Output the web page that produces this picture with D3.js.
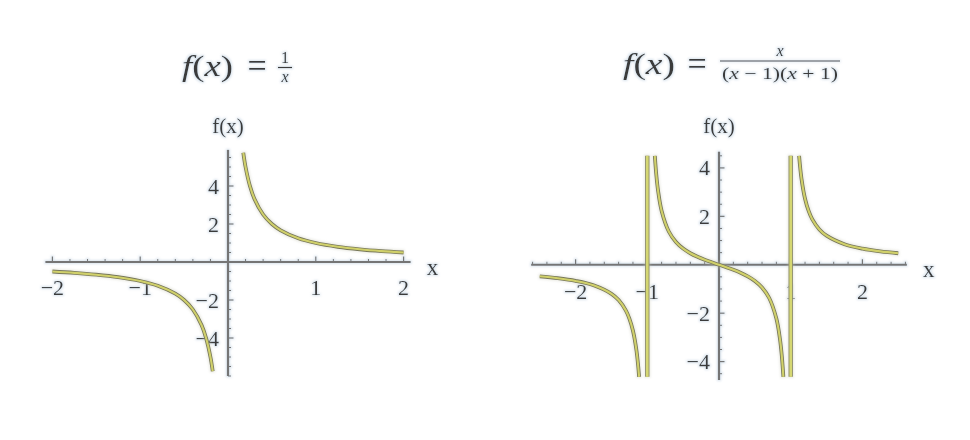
<!DOCTYPE html>
<html>
<head>
<meta charset="utf-8">
<script src="https://cdn.jsdelivr.net/npm/d3@7"></script>
<style>
  html, body { margin: 0; padding: 0; background: #fff; }
  svg { display: block; }
  text, tspan { font-family: "Liberation Serif", "DejaVu Serif", serif; fill: #3a3a3a; }
</style>
</head>
<body>
<svg id="chart" width="970" height="440"></svg>
<script>
// ---------- DATA ----------
// Panel 1: f(x) = 1/x
const p1XTicks = [-2, -1, 1, 2];
const p1YTicks = [-4, -2, 2, 4];
const p1XTickLabels = ["\u22122", "\u22121", "1", "2"];
const p1YTickLabels = ["\u22124", "\u22122", "2", "4"];
const p1BranchAX = [-2, -1.75, -1.5, -1.25, -1, -0.8, -0.6, -0.5, -0.4, -0.3, -0.25, -0.2, -0.174];
const p1BranchAY = [-0.5, -0.571, -0.667, -0.8, -1, -1.25, -1.667, -2, -2.5, -3.333, -4, -5, -5.75];
const p1BranchBX = [0.174, 0.2, 0.25, 0.3, 0.4, 0.5, 0.6, 0.8, 1, 1.25, 1.5, 1.75, 2];
const p1BranchBY = [5.75, 5, 4, 3.333, 2.5, 2, 1.667, 1.25, 1, 0.8, 0.667, 0.571, 0.5];

// Panel 2: f(x) = x / ((x-1)(x+1))
const p2XTicks = [-2, -1, 1, 2];
const p2YTicks = [-4, -2, 2, 4];
const p2XTickLabels = ["\u22122", "\u22121", "1", "2"];
const p2YTickLabels = ["\u22124", "\u22122", "2", "4"];
const p2BranchAX = [-2.5, -2.25, -2, -1.75, -1.5, -1.4, -1.3, -1.25, -1.2, -1.15, -1.114];
const p2BranchAY = [-0.476, -0.554, -0.667, -0.848, -1.2, -1.458, -1.884, -2.222, -2.727, -3.566, -4.63];
const p2BranchBX = [-0.895, -0.875, -0.85, -0.8, -0.7, -0.6, -0.5, -0.4, -0.3, -0.2, -0.1, 0, 0.1, 0.2, 0.3, 0.4, 0.5, 0.6, 0.7, 0.8, 0.85, 0.875, 0.898];
const p2BranchBY = [4.5, 3.733, 3.063, 2.222, 1.373, 0.9375, 0.667, 0.476, 0.33, 0.208, 0.101, 0, -0.101, -0.208, -0.33, -0.476, -0.667, -0.9375, -1.373, -2.222, -3.063, -3.733, -4.63];
const p2BranchCX = [1.117, 1.15, 1.2, 1.25, 1.3, 1.4, 1.5, 1.75, 2, 2.25, 2.5];
const p2BranchCY = [4.5, 3.566, 2.727, 2.222, 1.884, 1.458, 1.2, 0.848, 0.667, 0.554, 0.476];
const p2JoinX = [-1, 1];          // vertical joining segments at the asymptotes
const p2JoinY = [4.5, -4.63];     // their top / bottom values

// ---------- LAYOUT ----------
const svg = d3.select("#chart");
const SERIF = "'Liberation Serif', 'DejaVu Serif', serif";

const defs = svg.append("defs");
function makeGlow(id, color, op, r) {
  const f = defs.append("filter").attr("id", id)
    .attr("x", "-20%").attr("y", "-20%").attr("width", "140%").attr("height", "140%");
  f.append("feMorphology").attr("in", "SourceAlpha").attr("operator", "dilate").attr("radius", r).attr("result", "dil");
  f.append("feGaussianBlur").attr("in", "dil").attr("stdDeviation", 1.1).attr("result", "blur");
  f.append("feFlood").attr("flood-color", color).attr("flood-opacity", op).attr("result", "col");
  f.append("feComposite").attr("in", "col").attr("in2", "blur").attr("operator", "in").attr("result", "shadow");
  const m = f.append("feMerge");
  m.append("feMergeNode").attr("in", "shadow");
  m.append("feMergeNode").attr("in", "SourceGraphic");
}
makeGlow("glow", "#b4c8da", 0.5, 1);
makeGlow("glowC", "#c8c8b4", 0.35, 0.6);

function zip(xs, ys) { return xs.map((v, i) => [v, ys[i]]); }

function drawPanel(cfg) {
  const g = svg.append("g").attr("filter", "url(#glow)");
  const x = d3.scaleLinear().domain(cfg.xDomain).range(cfg.xRange);
  const y = d3.scaleLinear().domain(cfg.yDomain).range(cfg.yRange);

  const minorX = d3.range(Math.ceil(cfg.xAxis[0] / 0.2), Math.floor(cfg.xAxis[1] / 0.2) + 1)
    .map(k => +(k * 0.2).toFixed(2)).filter(v => v !== 0 && !cfg.xTicks.includes(v));
  const minorY = d3.range(Math.ceil(cfg.yAxis[0] / 0.5), Math.floor(cfg.yAxis[1] / 0.5) + 1)
    .map(k => k * 0.5).filter(v => v !== 0 && !cfg.yTicks.includes(v));

  const axG = g.append("g").attr("stroke", "#757575").attr("fill", "none");
  axG.append("line")
    .attr("x1", x(cfg.xAxis[0])).attr("x2", x(cfg.xAxis[1]))
    .attr("y1", y(0)).attr("y2", y(0)).attr("stroke-width", 2.2);
  axG.append("line")
    .attr("x1", x(0)).attr("x2", x(0))
    .attr("y1", y(cfg.yAxis[0])).attr("y2", y(cfg.yAxis[1])).attr("stroke-width", 2.2);

  axG.selectAll(".mx").data(minorX).join("line")
    .attr("x1", d => x(d)).attr("x2", d => x(d))
    .attr("y1", y(0)).attr("y2", y(0) - 3).attr("stroke-width", 1);
  axG.selectAll(".Mx").data(cfg.xTicks).join("line")
    .attr("x1", d => x(d)).attr("x2", d => x(d))
    .attr("y1", y(0)).attr("y2", y(0) - 5.5).attr("stroke-width", 1.2);
  axG.selectAll(".my").data(minorY).join("line")
    .attr("x1", x(0)).attr("x2", x(0) + 3)
    .attr("y1", d => y(d)).attr("y2", d => y(d)).attr("stroke-width", 1);
  axG.selectAll(".My").data(cfg.yTicks).join("line")
    .attr("x1", x(0)).attr("x2", x(0) + 5.5)
    .attr("y1", d => y(d)).attr("y2", d => y(d)).attr("stroke-width", 1.2);

  g.selectAll(".xl").data(cfg.xTicks).join("text")
    .attr("x", d => x(d)).attr("y", y(0) + cfg.xLabelDy)
    .attr("text-anchor", "middle").attr("dominant-baseline", "central")
    .attr("font-family", SERIF).attr("font-size", 22)
    .text((d, i) => cfg.xTickLabels[i]);
  g.selectAll(".yl").data(cfg.yTicks).join("text")
    .attr("x", x(0) - 9).attr("y", d => y(d))
    .attr("text-anchor", "end").attr("dominant-baseline", "central")
    .attr("font-family", SERIF).attr("font-size", 22)
    .text((d, i) => cfg.yTickLabels[i]);

  g.append("text").attr("x", x(0)).attr("y", cfg.fxLabelY)
    .attr("text-anchor", "middle").attr("dominant-baseline", "central")
    .attr("font-family", SERIF).attr("font-size", 21).text("f(x)");
  g.append("text").attr("x", x(cfg.xAxis[1]) + cfg.xNameDx).attr("y", y(0) + 5)
    .attr("text-anchor", "middle").attr("dominant-baseline", "central")
    .attr("font-family", SERIF).attr("font-size", 23).text("x");

  const line = d3.line().x(d => x(d[0])).y(d => y(d[1])).curve(d3.curveCatmullRom.alpha(0.5));
  const curveG = svg.append("g").attr("fill", "none").attr("filter", "url(#glowC)");
  cfg.branches.forEach(b => {
    curveG.append("path").attr("d", line(b)).attr("stroke", "#77775a").attr("stroke-width", 3.8);
    curveG.append("path").attr("d", line(b)).attr("stroke", "#d0d06a").attr("stroke-width", 2.1);
  });
  const segLine = d3.line().x(d => x(d[0])).y(d => y(d[1]));
  (cfg.joins || []).forEach(jx => {
    const seg = [[jx, cfg.joinY[0]], [jx, cfg.joinY[1]]];
    curveG.append("path").attr("d", segLine(seg)).attr("stroke", "#8c8c66").attr("stroke-width", 4.4);
    curveG.append("path").attr("d", segLine(seg)).attr("stroke", "#d5d772").attr("stroke-width", 2.6);
  });
}

drawPanel({
  xDomain: [-2, 2], xRange: [52.4, 403.6],
  yDomain: [-6, 6], yRange: [376, 148],
  xAxis: [-2.08, 2.08], yAxis: [-6.0, 5.9],
  xTicks: p1XTicks, yTicks: p1YTicks,
  xTickLabels: p1XTickLabels, yTickLabels: p1YTickLabels,
  xLabelDy: 25, fxLabelY: 126, xNameDx: 22,
  branches: [zip(p1BranchAX, p1BranchAY), zip(p1BranchBX, p1BranchBY)]
});

drawPanel({
  xDomain: [-2.5, 2.5], xRange: [539.75, 898.25],
  yDomain: [-4.76, 4.67], yRange: [380, 151.7],
  xAxis: [-2.62, 2.62], yAxis: [-4.76, 4.67],
  xTicks: p2XTicks, yTicks: p2YTicks,
  xTickLabels: p2XTickLabels, yTickLabels: p2YTickLabels,
  xLabelDy: 27, fxLabelY: 126, xNameDx: 22,
  branches: [zip(p2BranchAX, p2BranchAY), zip(p2BranchBX, p2BranchBY), zip(p2BranchCX, p2BranchCY)],
  joins: p2JoinX, joinY: p2JoinY
});

// ---------- TITLES ----------
const tg = svg.append("g").attr("filter", "url(#glow)");
function ital(sel, s) { sel.append("tspan").attr("font-family", SERIF).attr("font-style", "italic").text(s); }
function roman(sel, s) { sel.append("tspan").attr("font-family", SERIF).attr("font-style", "normal").text(s); }

// left title: f(x) = 1/x
const t1 = tg.append("text").attr("x", 182).attr("y", 76).attr("font-family", SERIF).attr("font-size", 30);
ital(t1, "f"); roman(t1, "("); ital(t1, "x"); roman(t1, ")");
t1.attr("textLength", 51).attr("lengthAdjust", "spacingAndGlyphs");
tg.append("text").attr("x", 257).attr("y", 77).attr("font-family", SERIF).attr("font-size", 34).attr("text-anchor", "middle").text("=");
tg.append("text").attr("x", 285).attr("y", 63).attr("font-family", SERIF).attr("font-size", 16).attr("text-anchor", "middle").text("1");
tg.append("line").attr("x1", 278).attr("x2", 292).attr("y1", 67.5).attr("y2", 67.5).attr("stroke", "#3a3a3a").attr("stroke-width", 1.2);
tg.append("text").attr("x", 285).attr("y", 82).attr("font-family", SERIF).attr("font-size", 16).attr("text-anchor", "middle").attr("font-style", "italic").text("x");

// right title: f(x) = x/((x-1)(x+1))
const t2 = tg.append("text").attr("x", 623).attr("y", 74).attr("font-family", SERIF).attr("font-size", 30);
ital(t2, "f"); roman(t2, "("); ital(t2, "x"); roman(t2, ")");
t2.attr("textLength", 52).attr("lengthAdjust", "spacingAndGlyphs");
tg.append("text").attr("x", 697).attr("y", 75).attr("font-family", SERIF).attr("font-size", 34).attr("text-anchor", "middle").text("=");
tg.append("text").attr("x", 780).attr("y", 56).attr("font-family", SERIF).attr("font-size", 16).attr("text-anchor", "middle").attr("font-style", "italic").text("x");
tg.append("line").attr("x1", 720).attr("x2", 840).attr("y1", 61).attr("y2", 61).attr("stroke", "#3a3a3a").attr("stroke-width", 1.2);
const den = tg.append("text").attr("x", 722).attr("y", 79).attr("font-family", SERIF).attr("font-size", 17);
roman(den, "("); ital(den, "x"); roman(den, " \u2212 1)("); ital(den, "x"); roman(den, " + 1)");
den.attr("textLength", 116).attr("lengthAdjust", "spacingAndGlyphs");
</script>
</body>
</html>
